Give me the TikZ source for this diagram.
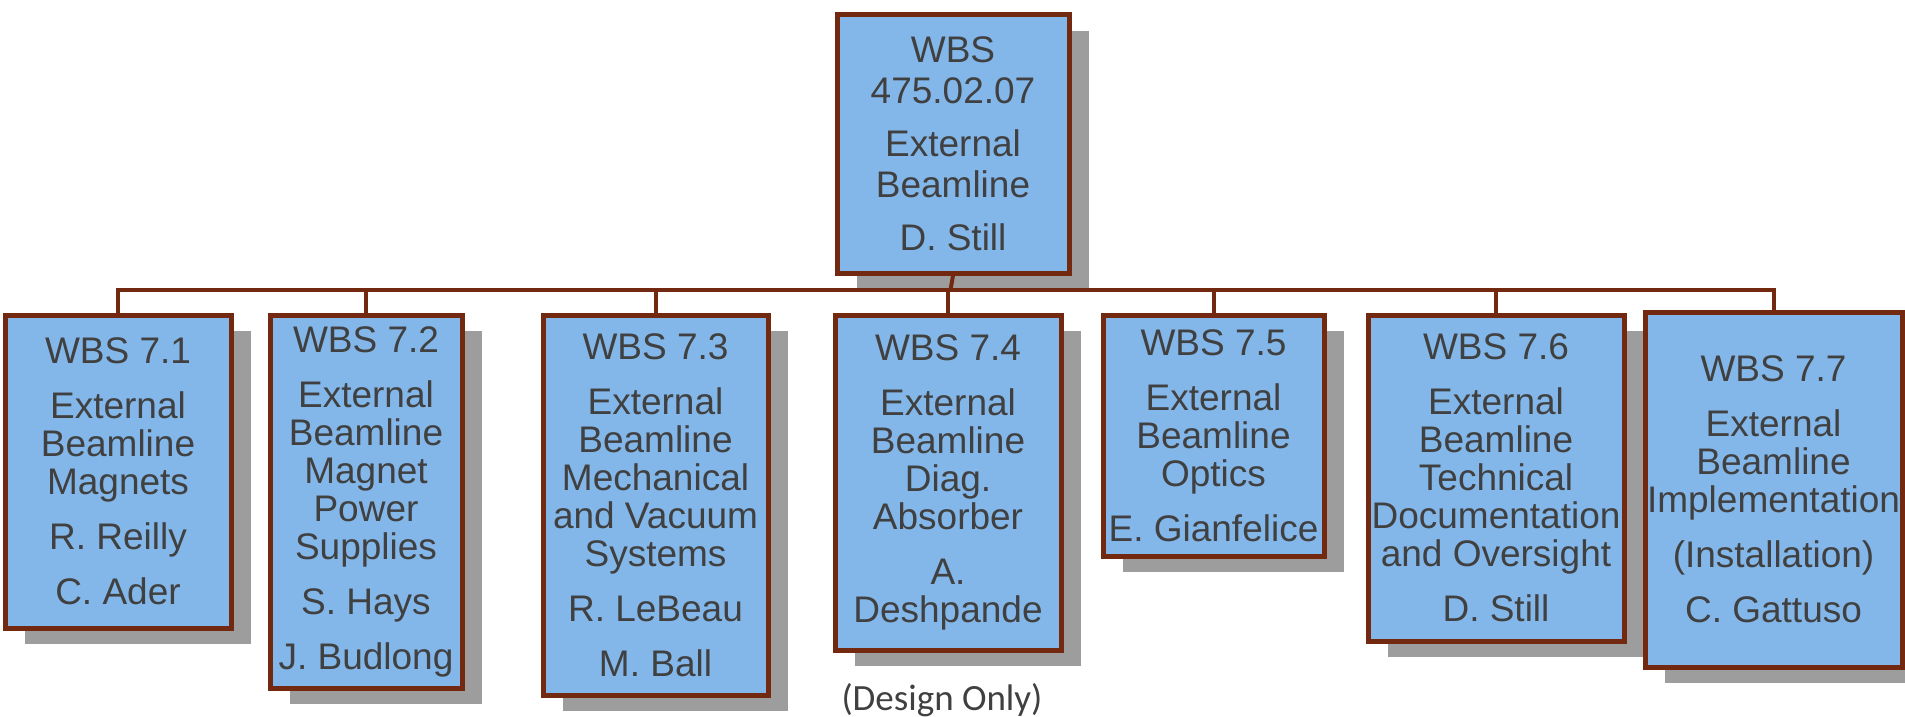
\documentclass[tikz,border=0pt]{standalone}
\usepackage{fontspec}
\setmainfont{Liberation Sans}
\newfontfamily\notefont{Carlito}
\usepackage{tikz}
\usetikzlibrary{positioning,shadows}
\definecolor{boxblue}{HTML}{83B7E9}
\definecolor{boxline}{HTML}{73290F}
\definecolor{wbstext}{HTML}{404040}
\tikzset{
    wbsbox/.style={
        rectangle, draw=boxline, fill=boxblue,
        line width=5pt, inner sep=0pt,
        anchor=north west, align=center, text=wbstext,
        font=\fontsize{37}{38}\selectfont,
        drop shadow={shadow xshift=20pt, shadow yshift=-16pt,
                     fill=black!45, opacity=0.85}
    },
    busline/.style={
        draw=boxline, line width=4pt
    }
}

\begin{document}
\begin{tikzpicture}[x=1pt, y=-1pt]
    \useasboundingbox (0,0) rectangle (1905,717);
    % Boxes
    \node[wbsbox, minimum width=232pt, minimum height=258pt,
          font=\fontsize{37}{41}\selectfont]
        (top) at (834.5,12.5) {WBS\\475.02.07\\[12pt]External\\Beamline\\[12pt]D. Still};
    \node[wbsbox, minimum width=226pt, minimum height=313pt]
        (w1) at (2.5,312.5) {WBS 7.1\\[17pt]External\\Beamline\\Magnets\\[17pt]R. Reilly\\[17pt]C. Ader};
    \node[wbsbox, minimum width=192pt, minimum height=373pt]
        (w2) at (267.5,312.5) {WBS 7.2\\[17pt]External\\Beamline\\Magnet\\Power\\Supplies\\[17pt]S. Hays\\[17pt]J. Budlong};
    \node[wbsbox, minimum width=225pt, minimum height=380pt]
        (w3) at (540.5,312.5) {WBS 7.3\\[17pt]External\\Beamline\\Mechanical\\and Vacuum\\Systems\\[17pt]R. LeBeau\\[17pt]M. Ball};
    \node[wbsbox, minimum width=226pt, minimum height=335pt]
        (w4) at (832.5,312.5) {WBS 7.4\\[17pt]External\\Beamline\\Diag.\\Absorber\\[17pt]A.\\Deshpande};
    \node[wbsbox, minimum width=221pt, minimum height=241pt]
        (w5) at (1100.5,312.5) {WBS 7.5\\[17pt]External\\Beamline\\Optics\\[17pt]E. Gianfelice};
    \node[wbsbox, minimum width=256pt, minimum height=326pt]
        (w6) at (1365.5,312.5) {WBS 7.6\\[17pt]External\\Beamline\\Technical\\Documentation\\and Oversight\\[17pt]D. Still};
    \node[wbsbox, minimum width=257pt, minimum height=355pt]
        (w7) at (1642.5,309.5) {WBS 7.7\\[17pt]External\\Beamline\\Implementation\\[17pt](Installation)\\[17pt]C. Gattuso};
    % Note
    \node[font=\notefont\fontsize{37}{40}\selectfont, text=wbstext]
        (note) at (942,700) {(Design Only)};
    % Connectors
    \coordinate (bus) at (950.5,290);
    \draw[busline] (top.south) -- (bus);
    \foreach \i in {1,...,7}
        \draw[busline] (bus) -| (w\i.north);
\end{tikzpicture}
\end{document}
